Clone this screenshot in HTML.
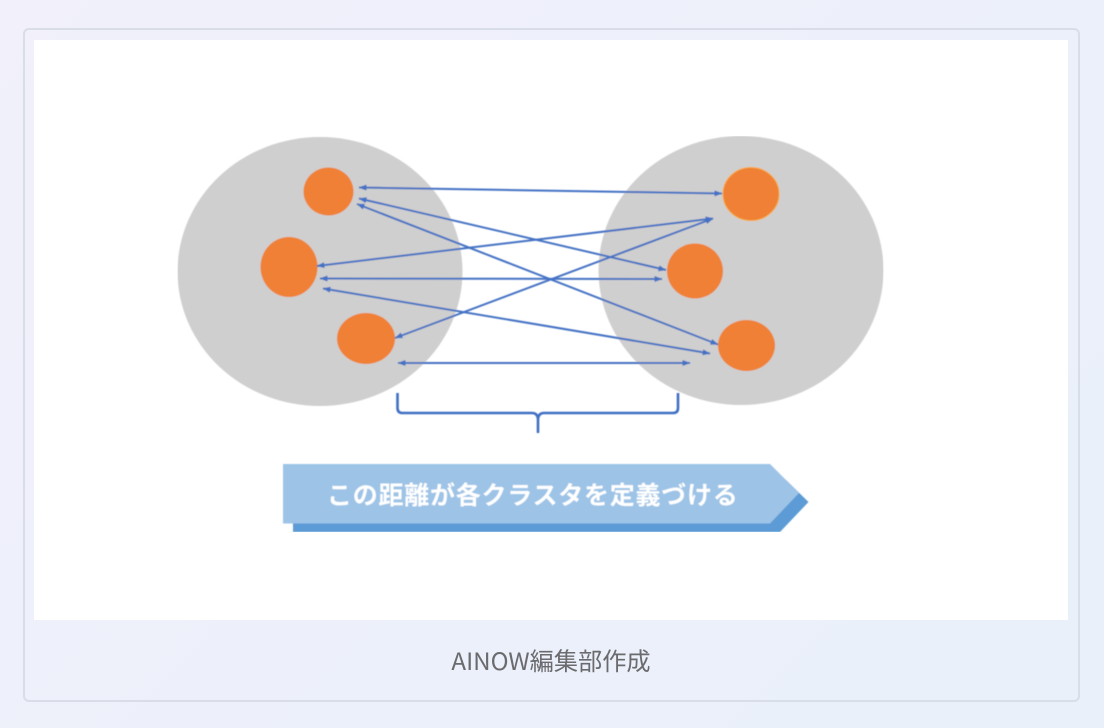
<!DOCTYPE html>
<html lang="ja">
<head>
<meta charset="utf-8">
<style>
html,body{margin:0;padding:0;width:1104px;height:728px;overflow:hidden;background:linear-gradient(135deg,#f1f0fb 0%,#e9f0fa 100%);}
#frame{position:absolute;left:23px;top:28px;width:1053px;height:670px;border:2px solid #d8dde8;border-radius:6px;}
#white{position:absolute;left:34px;top:40px;width:1034px;height:580px;background:#fff;}
#cap{position:absolute;left:0;top:641px;width:1102px;text-align:center;font:24.2px/38px "Noto Sans CJK JP","Liberation Sans",sans-serif;color:#6b6b6e;}
svg{position:absolute;left:0;top:0;}
</style>
</head>
<body>
<div id="frame"></div>
<div id="white"></div>
<svg width="1104" height="728" viewBox="0 0 1104 728">
<defs>
<marker id="a" viewBox="0 0 8 6" refX="7.500" refY="3" markerWidth="8" markerHeight="6" markerUnits="userSpaceOnUse" orient="auto-start-reverse"><path d="M0 0L8 3L0 6Z" fill="#4472c4"/></marker>
<filter id="b" x="0" y="0" width="100%" height="100%"><feGaussianBlur stdDeviation="0.400"/></filter>
</defs>
<g filter="url(#b)">
<ellipse cx="320" cy="271.500" rx="142.500" ry="134.500" fill="#d0cfcf"/>
<ellipse cx="741" cy="270.500" rx="142.500" ry="134.500" fill="#d0cfcf"/>
<ellipse cx="328.500" cy="191.500" rx="25" ry="24" fill="#f08035"/>
<ellipse cx="289" cy="267" rx="28.500" ry="30" fill="#f08035"/>
<ellipse cx="366" cy="338.500" rx="29" ry="25.500" fill="#f08035"/>
<ellipse cx="751" cy="194" rx="28" ry="26.500" fill="#f08035" stroke="#f9a83a" stroke-width="1"/>
<ellipse cx="695" cy="271" rx="28" ry="27.500" fill="#f08035"/>
<ellipse cx="746.500" cy="345.500" rx="28.500" ry="25.500" fill="#f08035"/>
<g stroke="#4472c4" stroke-width="2" fill="none">
<line x1="359" y1="187.500" x2="722" y2="193.500" marker-start="url(#a)" marker-end="url(#a)"/>
<line x1="359" y1="198.500" x2="666" y2="270" marker-start="url(#a)" marker-end="url(#a)"/>
<line x1="357" y1="204" x2="718" y2="344.500" marker-start="url(#a)" marker-end="url(#a)"/>
<line x1="317" y1="266" x2="713" y2="218.500" marker-start="url(#a)" marker-end="url(#a)"/>
<line x1="320" y1="278.500" x2="662" y2="279" marker-start="url(#a)" marker-end="url(#a)"/>
<line x1="323" y1="288.500" x2="710" y2="353.500" marker-start="url(#a)" marker-end="url(#a)"/>
<line x1="395" y1="338" x2="713" y2="218.500" marker-start="url(#a)" marker-end="url(#a)"/>
<line x1="398" y1="363" x2="690" y2="363" marker-start="url(#a)" marker-end="url(#a)"/>
</g>
<path d="M397.500 393V408Q397.500 413 402.500 413H532Q537.500 413 538 419V433M538 419Q538.500 413 544 413H673Q678 413 678 408V393" fill="none" stroke="#3f6fc2" stroke-width="2.600"/>
<path d="M293 480H786L808.500 502L780 532H293Z" fill="#5b9bd5"/>
<path d="M283 464H770L799 493L770 523.500H283Z" fill="#9dc3e6"/>
<text x="327" y="504" font-family="'Noto Sans CJK JP','Liberation Sans',sans-serif" font-size="25" font-weight="700" fill="#fff" letter-spacing="0.750">この距離が各クラスタを定義づける</text>
</g>
</svg>
<div id="cap">AINOW編集部作成</div>
</body>
</html>
